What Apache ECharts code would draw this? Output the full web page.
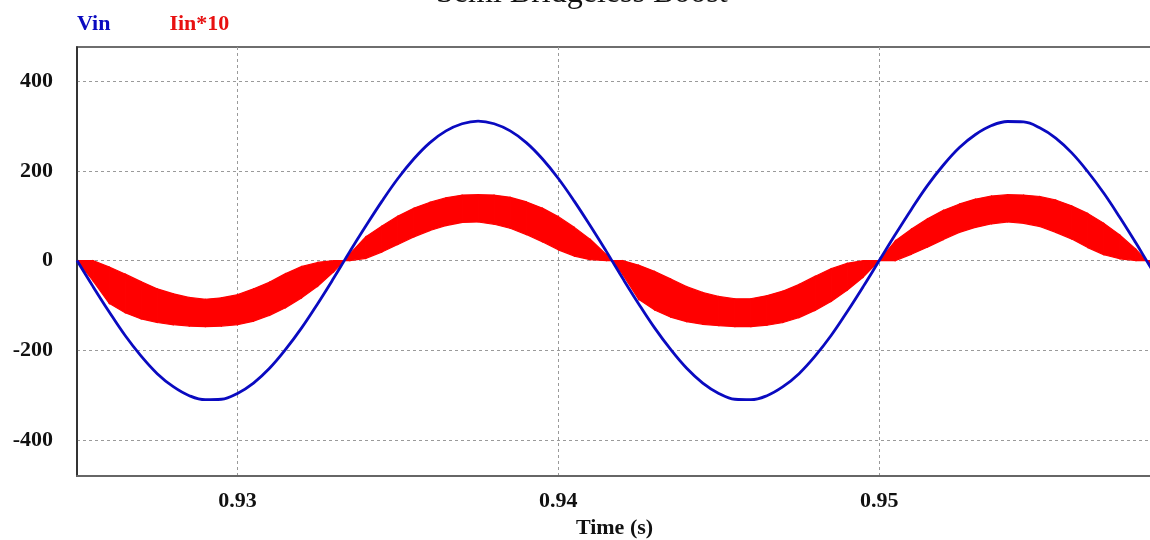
<!DOCTYPE html>
<html>
<head>
<meta charset="utf-8">
<script src="https://cdn.jsdelivr.net/npm/echarts@6/dist/echarts.min.js"></script>
<style>
html,body{margin:0;padding:0;background:#fff;}
#chart{width:1150px;height:540px;}
</style>
</head>
<body>
<div id="chart"></div>
<script>
var chartTitle = 'Semi Bridgeless Boost';
var seriesNames = ['Vin', 'Iin*10'];
var xTickValues = [0.93, 0.94, 0.95];
var yTickValues = [-400, -200, 0, 200, 400];
var xName = 'Time (s)';

var times = [0.925,0.9255,0.926,0.9265,0.927,0.9275,0.928,0.9285,0.929,0.9295,0.93,0.9305,0.931,0.9315,0.932,0.9325,0.933,0.93333,
  0.9335,0.934,0.9345,0.935,0.9355,0.936,0.9365,0.937,0.9375,0.938,0.9385,0.939,0.9395,0.94,0.9405,0.941,0.9415,0.94167,
  0.942,0.9425,0.943,0.9435,0.944,0.9445,0.945,0.9455,0.946,0.9465,0.947,0.9475,0.948,0.9485,0.949,0.9495,0.95,
  0.9505,0.951,0.9515,0.952,0.9525,0.953,0.9535,0.954,0.9545,0.955,0.9555,0.956,0.9565,0.957,0.9575,0.958,0.95833,0.9585];

var vin = [0,-58,-114,-167,-213,-252,-281,-301,-310,-309,-296,-273,-240,-198,-150,-96,-39,0,
  20,77,132,183,227,263,289,305,311,305,289,263,227,183,132,77,20,0,
  -39,-96,-150,-198,-240,-273,-296,-309,-310,-301,-281,-252,-213,-167,-114,-58,0,
  58,114,167,213,252,281,301,310,309,296,273,240,198,150,96,39,0,-20];

// lower and upper edges of the Iin*10 ripple band
var iinLow = [0,-45,-95,-116,-130,-138,-143,-146,-147,-146,-143,-135,-122,-105,-83,-57,-25,0,
  0,5,19,36,53,67,78,85,86,81,72,58,42,24,10,2,0,0,
  -30,-86,-110,-126,-136,-142,-145,-147,-147,-144,-138,-127,-111,-91,-66,-37,0,
  0,14,30,47,63,74,82,86,83,76,63,48,29,13,4,0,0,-12];
var iinHigh = [0,0,-14,-30,-47,-63,-74,-82,-86,-83,-76,-63,-48,-29,-13,-4,0,0,
  15,53,77,99,117,130,140,146,147,146,141,131,117,98,74,47,13,0,
  0,-10,-24,-41,-58,-71,-80,-85,-85,-78,-68,-53,-35,-18,-6,0,0,
  44,70,93,112,126,137,144,147,146,143,135,122,105,83,57,25,0,0];

var vinData = times.map(function(t,i){return [t, vin[i]];});
var bandData = times.map(function(t,i){return [t, iinLow[i], iinHigh[i]];});

function renderBand(params, api) {
  var i = params.dataIndexInside;
  var n = params.dataInsideLength;
  if (i >= n - 1) return null;
  var t0 = api.value(0, i), l0 = api.value(1, i), h0 = api.value(2, i);
  var t1 = api.value(0, i + 1), l1 = api.value(1, i + 1), h1 = api.value(2, i + 1);
  var pts = [api.coord([t0, l0]), api.coord([t1, l1]), api.coord([t1, h1]), api.coord([t0, h0])];
  return {
    type: 'polygon',
    shape: {points: pts},
    style: {fill: '#ff0000', stroke: '#ff0000', lineWidth: 1.2},
    clipPath: {type: 'rect', shape: {x: params.coordSys.x, y: params.coordSys.y, width: params.coordSys.width, height: params.coordSys.height}}
  };
}

var serif = 'Liberation Serif, Times New Roman, serif';
var chart = echarts.init(document.getElementById('chart'), null, {renderer:'canvas'});
chart.setOption({
  animation: false,
  backgroundColor: '#ffffff',
  title: {
    text: chartTitle,
    left: 431, top: -27,
    textStyle: {fontFamily: serif, fontWeight: 'normal', fontSize: 32, color: '#111'}
  },
  legend: {
    left: 66, top: 8,
    icon: 'none', itemWidth: 1, itemHeight: 10, itemGap: 53,
    selectedMode: false,
    data: [
      {name: seriesNames[0], textStyle: {color: '#0a0ac0'}},
      {name: seriesNames[1], textStyle: {color: '#e81010'}}
    ],
    textStyle: {fontFamily: serif, fontWeight: 'bold', fontSize: 22}
  },
  grid: {left: 77, top: 47, width: 1075, height: 429, show: true, borderColor: '#6e6e6e', borderWidth: 2,
    containLabel: false, outerBoundsMode: 'none'},
  xAxis: {
    type: 'value', min: 0.925, max: 0.9585,
    name: xName, nameLocation: 'middle', nameGap: 40,
    nameTextStyle: {fontFamily: serif, fontWeight: 'bold', fontSize: 22, color: '#111'},
    axisLine: {show: true, onZero: false, lineStyle: {color: '#666', width: 2}},
    axisTick: {show: false, customValues: xTickValues},
    axisLabel: {customValues: xTickValues, margin: 14, fontFamily: serif, fontWeight: 'bold', fontSize: 22, color: '#111',
      formatter: function(v){return v.toFixed(2);}},
    splitLine: {show: true, lineStyle: {color: '#9a9a9a', type: [3,3], width: 1}}
  },
  yAxis: {
    type: 'value', min: -480, max: 476,
    axisLine: {show: true, onZero: false, lineStyle: {color: '#222', width: 1.5}},
    axisTick: {show: false, customValues: yTickValues},
    axisLabel: {customValues: yTickValues, margin: 24, fontFamily: serif, fontWeight: 'bold', fontSize: 22, color: '#111'},
    splitLine: {show: true, lineStyle: {color: '#9a9a9a', type: [3,3], width: 1}}
  },
  series: [
    {
      name: seriesNames[1], type: 'custom', data: bandData, renderItem: renderBand,
      encode: {x: 0, y: [1, 2]}, color: '#ff0000', z: 2, silent: true
    },
    {
      name: seriesNames[0], type: 'line', data: vinData, symbol: 'none', smooth: 0.4, color: '#0a0ac0',
      lineStyle: {color: '#0a0ac0', width: 2.8}, z: 3
    }
  ]
});
</script>
</body>
</html>
